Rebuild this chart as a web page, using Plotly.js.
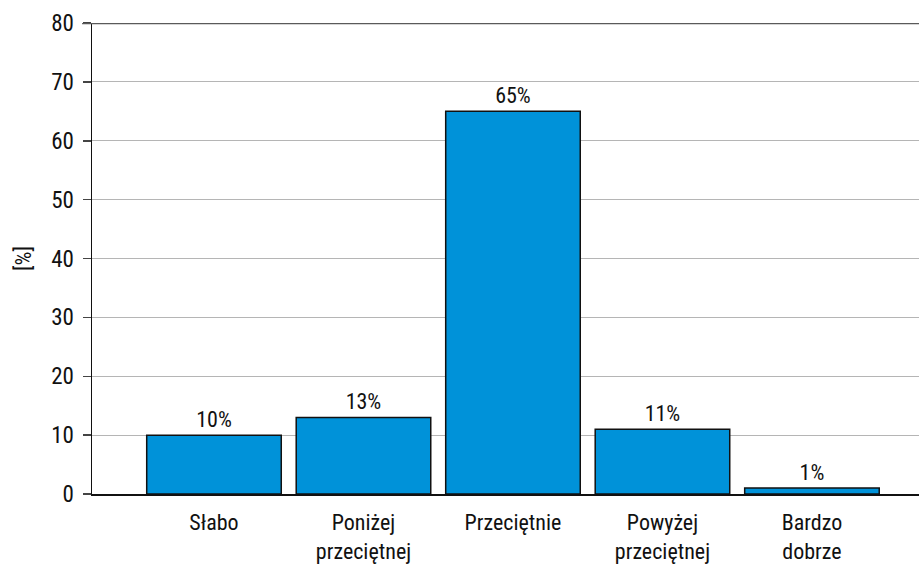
<!DOCTYPE html>
<html>
<head>
<meta charset="utf-8">
<script src="https://cdn.plot.ly/plotly-3.0.1.min.js"></script>
<style>
  html, body { margin: 0; padding: 0; background: #fff; }
  #chart { width: 919px; height: 566px; }
  #chart text { font-stretch: condensed; }
</style>
</head>
<body>
<div id="chart"></div>
<script>
// Ocena poziomu – odsetek odpowiedzi w każdej kategorii
const categories = ['Słabo', 'Poniżej<br>przeciętnej', 'Przeciętnie', 'Powyżej<br>przeciętnej', 'Bardzo<br>dobrze'];
const shares = [10, 13, 65, 11, 1];
const yTicks = [0, 10, 20, 30, 40, 50, 60, 70, 80];

const FONT = '"Roboto Condensed", "DejaVu Sans Condensed", sans-serif';

const trace = {
  type: 'bar',
  x: categories,
  y: shares,
  marker: { color: '#0092d9', line: { color: '#111', width: 1.5 } },
  text: shares.map(v => v + '%'),
  textposition: 'outside',
  textfont: { family: FONT, size: 22, color: '#111', weight: 400 },
  cliponaxis: false,
  hoverinfo: 'skip'
};

const layout = {
  width: 919,
  height: 566,
  margin: { l: 92, r: 0, t: 23, b: 72 },
  paper_bgcolor: '#fff',
  plot_bgcolor: '#fff',
  showlegend: false,
  bargap: 0.1,
  font: { family: FONT, size: 22, color: '#111', weight: 400 },
  xaxis: {
    type: 'category',
    range: [-0.816, 4.716],
    showline: true,
    linecolor: '#111',
    linewidth: 1.5,
    ticks: '',
    showgrid: false,
    tickfont: { family: FONT, size: 22, color: '#111', weight: 400 },
    ticklabelstandoff: 8
  },
  yaxis: {
    range: [0, 80],
    tickvals: yTicks,
    ticktext: yTicks.map(String),
    showline: true,
    linecolor: '#111',
    linewidth: 1.5,
    ticks: 'outside',
    ticklen: 8,
    tickwidth: 1.5,
    tickcolor: '#444',
    showgrid: true,
    gridcolor: '#b5b5b5',
    gridwidth: 1,
    zeroline: false,
    tickfont: { family: FONT, size: 23, color: '#111', weight: 400 },
    ticklabelstandoff: 4,
    title: { text: '[%]', font: { family: FONT, size: 22, color: '#111', weight: 400 }, standoff: 13 }
  },
  shapes: [{
    type: 'line', xref: 'paper', yref: 'y',
    x0: -0.012, x1: 1, y0: 80, y1: 80,
    line: { color: '#5a5a5a', width: 2.5 }
  }]
};

Plotly.newPlot('chart', [trace], layout, { displayModeBar: false, staticPlot: true });
</script>
</body>
</html>
